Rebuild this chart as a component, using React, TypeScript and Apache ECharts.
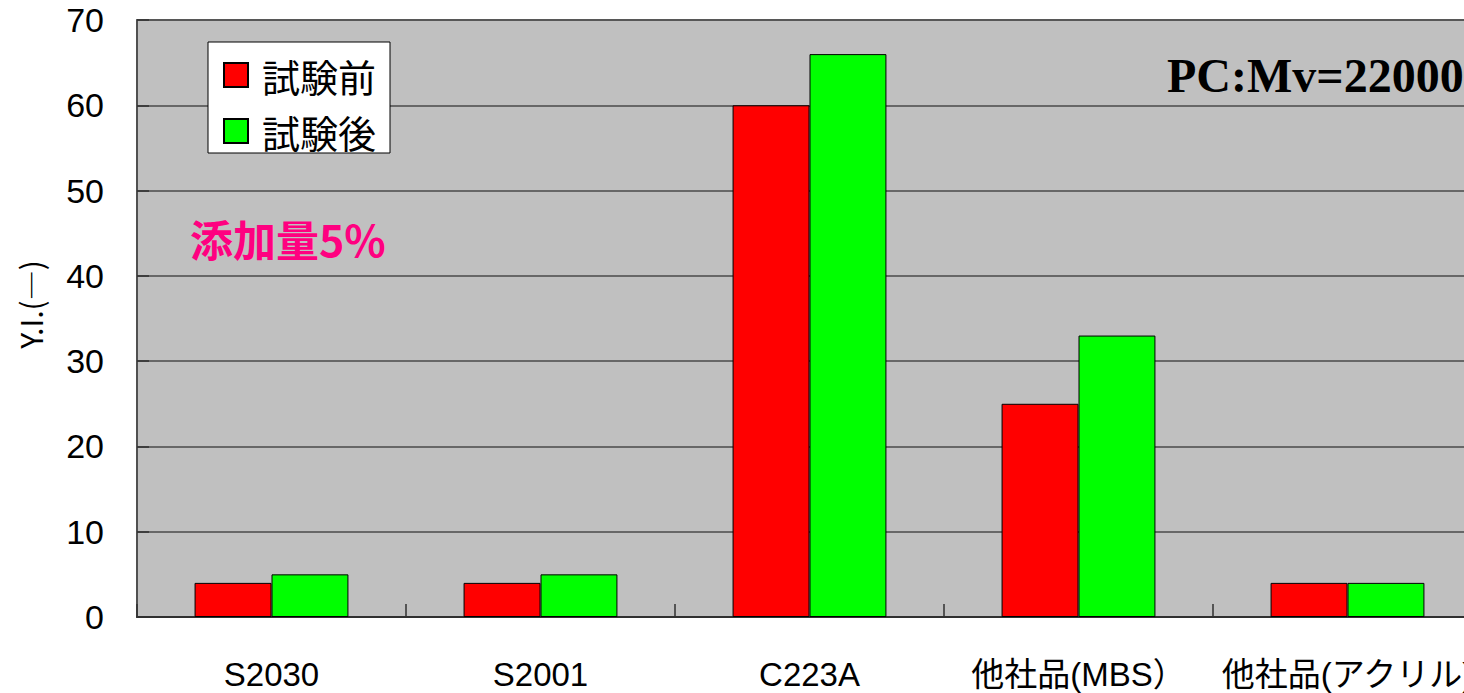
import React, { useEffect, useRef } from "react";
import * as echarts from "echarts";

const categories = ["S2030", "S2001", "C223A", "他社品(MBS）", "他社品(アクリル)"];
const seriesNames = ["試験前", "試験後"];
const beforeValues = [4, 4, 60, 25, 4];
const afterValues = [5, 5, 66, 33, 4];
const yTicks = { min: 0, max: 70, interval: 10 };
const yAxisName = "Y.I.(―)";
const noteText = "添加量5%";
const pcText = "PC:Mv=22000";

const JP = '"Noto Sans CJK JP", "Noto Sans", sans-serif';
const LAT = '"Liberation Sans", Arial, "Noto Sans CJK JP", sans-serif';

export default function App() {
  const ref = useRef<HTMLDivElement>(null);
  useEffect(() => {
    document.body.style.margin = "0";
    if (!ref.current) return;
    const chart = echarts.init(ref.current, undefined, { renderer: "svg" });
    chart.setOption({
      animation: false,
      backgroundColor: "#ffffff",
      grid: {
        left: 137,
        top: 20,
        width: 1345,
        height: 597,
        containLabel: false,
        outerBoundsMode: "none",
        show: true,
        backgroundColor: "#C0C0C0",
        borderColor: "#808080",
        borderWidth: 2,
      },
      legend: {
        orient: "vertical",
        left: 208,
        top: 42,
        backgroundColor: "#ffffff",
        borderColor: "#000000",
        borderWidth: 1,
        borderRadius: 0,
        padding: [14, 14, 3, 15],
        itemWidth: 24,
        itemHeight: 24,
        itemGap: 18,
        icon: "rect",
        textStyle: {
          fontSize: 38,
          lineHeight: 36,
          fontFamily: JP,
          color: "#000",
          padding: [0, 0, 0, 9],
        },
        data: seriesNames,
      },
      xAxis: {
        type: "category",
        data: categories,
        axisLine: { show: true, lineStyle: { color: "#303030", width: 2 } },
        axisTick: {
          show: true,
          inside: true,
          length: 13,
          interval: 0,
          lineStyle: { color: "#303030", width: 1.5 },
        },
        axisLabel: {
          interval: 0,
          fontSize: 33,
          fontFamily: LAT,
          color: "#000",
          margin: 41,
        },
      },
      yAxis: {
        type: "value",
        min: yTicks.min,
        max: yTicks.max,
        interval: yTicks.interval,
        name: yAxisName,
        nameLocation: "middle",
        nameGap: 92,
        nameRotate: 90,
        nameTextStyle: {
          fontSize: 30,
          fontFamily: JP,
          color: "#000",
          padding: [0, 0, 0, 28],
        },
        axisLine: { show: true, lineStyle: { color: "#404040", width: 1.5 } },
        axisTick: {
          show: true,
          inside: true,
          length: 12,
          lineStyle: { color: "#303030", width: 1.5 },
        },
        axisLabel: {
          fontSize: 34,
          fontFamily: LAT,
          color: "#000",
          margin: 33,
        },
        splitLine: { show: true, lineStyle: { color: "#4a4a4a", width: 1.5 } },
      },
      series: [
        {
          name: seriesNames[0],
          type: "bar",
          data: beforeValues,
          barGap: "0%",
          barCategoryGap: "42.8%",
          itemStyle: { color: "#FF0000", borderColor: "#000", borderWidth: 1 },
        },
        {
          name: seriesNames[1],
          type: "bar",
          data: afterValues,
          barGap: "0%",
          barCategoryGap: "42.8%",
          itemStyle: { color: "#00FF00", borderColor: "#000", borderWidth: 1 },
        },
      ],
      graphic: [
        {
          type: "text",
          left: 190,
          top: 216,
          z: 100,
          style: {
            text: noteText,
            fontSize: 43,
            fontWeight: "bold",
            fontFamily: JP,
            fill: "#FF0080",
          },
        },
        {
          type: "text",
          x: 1167,
          y: 75,
          z: 100,
          style: {
            text: pcText,
            fontSize: 48,
            fontWeight: "bold",
            fontFamily: '"Liberation Serif", "DejaVu Serif", serif',
            fill: "#000",
            verticalAlign: "middle",
          },
        },
      ],
    });
    return () => chart.dispose();
  }, []);
  return <div ref={ref} style={{ width: 1464, height: 693 }} />;
}
